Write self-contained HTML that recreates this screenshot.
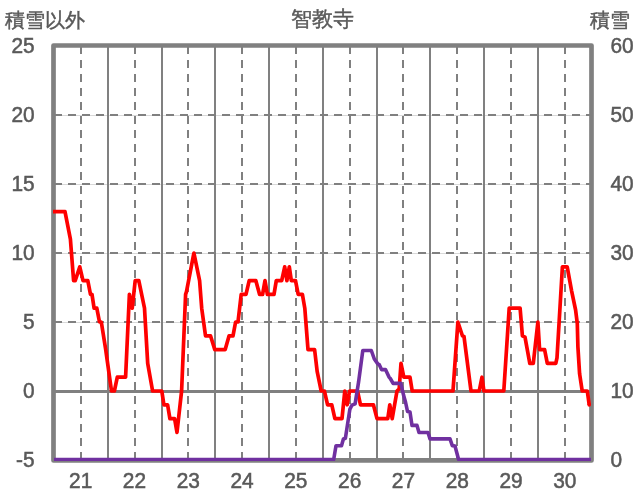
<!DOCTYPE html>
<html><head><meta charset="utf-8"><style>
html,body{margin:0;padding:0;background:#fff;width:636px;height:501px;overflow:hidden}
svg{display:block;will-change:transform}
text{font-family:"Liberation Sans",sans-serif;fill:#595959}
</style></head><body>
<svg width="636" height="501" viewBox="0 0 636 501">
<rect width="636" height="501" fill="#fff"/>
<line x1="53.5" y1="115.50" x2="591.6" y2="115.50" stroke="#d9d9d9" stroke-width="1"/>
<line x1="54" y1="115.00" x2="591.6" y2="115.00" stroke="#808080" stroke-width="2" stroke-dasharray="8 6"/>
<line x1="53.5" y1="184.50" x2="591.6" y2="184.50" stroke="#d9d9d9" stroke-width="1"/>
<line x1="54" y1="184.00" x2="591.6" y2="184.00" stroke="#808080" stroke-width="2" stroke-dasharray="8 6"/>
<line x1="53.5" y1="253.50" x2="591.6" y2="253.50" stroke="#d9d9d9" stroke-width="1"/>
<line x1="54" y1="253.00" x2="591.6" y2="253.00" stroke="#808080" stroke-width="2" stroke-dasharray="8 6"/>
<line x1="53.5" y1="322.50" x2="591.6" y2="322.50" stroke="#d9d9d9" stroke-width="1"/>
<line x1="54" y1="322.00" x2="591.6" y2="322.00" stroke="#808080" stroke-width="2" stroke-dasharray="8 6"/>
<line x1="53.5" y1="391.50" x2="591.6" y2="391.50" stroke="#808080" stroke-width="3"/>
<line x1="81" y1="460.0" x2="81" y2="46.0" stroke="#808080" stroke-width="2" stroke-dasharray="8 6"/>
<line x1="108" y1="46.0" x2="108" y2="460.0" stroke="#808080" stroke-width="2"/>
<line x1="135" y1="460.0" x2="135" y2="46.0" stroke="#808080" stroke-width="2" stroke-dasharray="8 6"/>
<line x1="162" y1="46.0" x2="162" y2="460.0" stroke="#808080" stroke-width="2"/>
<line x1="188" y1="460.0" x2="188" y2="46.0" stroke="#808080" stroke-width="2" stroke-dasharray="8 6"/>
<line x1="215" y1="46.0" x2="215" y2="460.0" stroke="#808080" stroke-width="2"/>
<line x1="242" y1="460.0" x2="242" y2="46.0" stroke="#808080" stroke-width="2" stroke-dasharray="8 6"/>
<line x1="269" y1="46.0" x2="269" y2="460.0" stroke="#808080" stroke-width="2"/>
<line x1="296" y1="460.0" x2="296" y2="46.0" stroke="#808080" stroke-width="2" stroke-dasharray="8 6"/>
<line x1="323" y1="46.0" x2="323" y2="460.0" stroke="#808080" stroke-width="2"/>
<line x1="350" y1="460.0" x2="350" y2="46.0" stroke="#808080" stroke-width="2" stroke-dasharray="8 6"/>
<line x1="377" y1="46.0" x2="377" y2="460.0" stroke="#808080" stroke-width="2"/>
<line x1="403" y1="460.0" x2="403" y2="46.0" stroke="#808080" stroke-width="2" stroke-dasharray="8 6"/>
<line x1="430" y1="46.0" x2="430" y2="460.0" stroke="#808080" stroke-width="2"/>
<line x1="457" y1="460.0" x2="457" y2="46.0" stroke="#808080" stroke-width="2" stroke-dasharray="8 6"/>
<line x1="484" y1="46.0" x2="484" y2="460.0" stroke="#808080" stroke-width="2"/>
<line x1="511" y1="460.0" x2="511" y2="46.0" stroke="#808080" stroke-width="2" stroke-dasharray="8 6"/>
<line x1="538" y1="46.0" x2="538" y2="460.0" stroke="#808080" stroke-width="2"/>
<line x1="565" y1="460.0" x2="565" y2="46.0" stroke="#808080" stroke-width="2" stroke-dasharray="8 6"/>
<rect x="53.5" y="45.5" width="538.0" height="414.9" fill="none" stroke="#808080" stroke-width="4.7" stroke-linejoin="round"/>
<polyline points="53.0,211.6 65.0,211.6 70.4,239.2 73.6,280.6 75.2,280.6 79.8,266.8 83.0,280.6 87.8,280.6 90.5,294.4 92.0,294.4 94.1,308.2 96.8,308.2 99.5,322.0 101.3,322.0 105.6,348.9 111.5,391.0 114.4,391.0 117.3,377.2 125.6,377.2 129.4,294.4 132.2,308.2 135.2,280.6 138.8,280.6 144.5,308.2 147.7,363.4 152.6,391.0 161.8,391.0 163.9,404.8 167.6,404.8 169.9,418.6 174.6,418.6 177.0,432.4 181.6,391.0 185.6,294.4 186.5,291.6 193.9,253.0 199.6,280.6 201.7,308.2 205.5,335.8 210.5,335.8 214.8,349.6 225.2,349.6 229.1,335.8 233.0,335.8 235.6,322.0 238.0,322.0 241.2,294.4 246.0,294.4 249.2,280.6 255.8,280.6 259.6,294.4 262.6,294.4 265.0,280.6 267.4,294.4 274.0,294.4 276.3,280.6 281.7,280.6 284.7,266.8 286.9,280.6 289.3,266.8 291.3,280.6 295.5,280.6 298.2,294.4 302.4,294.4 304.8,308.2 308.0,349.6 314.6,349.6 317.2,371.7 321.2,391.0 324.4,391.0 327.6,404.8 331.8,404.8 334.9,418.6 342.0,418.6 344.8,391.0 347.2,404.8 349.6,391.0 357.5,391.0 360.5,404.8 373.4,404.8 377.0,418.6 387.8,418.6 389.8,404.8 392.2,418.6 397.0,391.0 399.2,388.9 401.0,363.4 403.8,377.2 410.0,377.2 412.2,391.0 453.0,391.0 457.9,322.0 462.4,335.8 464.0,336.5 471.0,391.0 479.2,391.0 482.0,377.2 483.9,391.0 503.8,391.0 509.2,308.2 520.1,308.2 522.4,335.8 525.0,337.2 529.8,363.4 533.3,363.4 537.9,322.0 539.6,349.6 544.6,349.6 547.3,363.4 555.8,363.4 557.0,357.9 562.4,266.8 567.2,266.8 571.6,290.8 575.6,310.0 577.3,323.4 577.9,346.8 579.6,373.8 582.2,391.0 587.3,391.0 589.2,404.8" fill="none" stroke="#ff0000" stroke-width="3.7" stroke-linejoin="round" stroke-linecap="butt"/>
<circle cx="589.2" cy="404.8" r="1.85" fill="#ff0000"/>
<clipPath id="pc"><rect x="0" y="0" width="636" height="461"/></clipPath>
<polyline clip-path="url(#pc)" points="54.0,459.5 333.7,459.5 336.0,445.7 341.5,445.7 343.4,439.0 345.4,438.3 349.9,409.1 351.9,405.2 355.1,403.9 358.6,381.9 361.4,361.0 362.8,350.5 371.3,350.5 374.3,359.0 377.8,363.9 379.2,364.6 381.5,369.6 385.5,369.6 389.0,377.1 390.3,378.5 393.1,383.4 400.8,383.4 403.6,395.3 405.5,402.0 407.5,411.4 410.0,411.9 412.0,425.4 417.0,425.4 419.0,432.5 428.0,432.5 430.0,438.9 450.0,438.9 452.3,445.6 455.0,446.0 458.6,459.5 591.0,459.5" fill="none" stroke="#7030a0" stroke-width="3.6" stroke-linejoin="round" stroke-linecap="butt"/>
<text transform="translate(34.60,53.20) scale(0.92,1)" text-anchor="end" font-size="22.7" stroke="#595959" stroke-width="0.55">25</text>
<text transform="translate(34.60,122.20) scale(0.92,1)" text-anchor="end" font-size="22.7" stroke="#595959" stroke-width="0.55">20</text>
<text transform="translate(34.60,191.20) scale(0.92,1)" text-anchor="end" font-size="22.7" stroke="#595959" stroke-width="0.55">15</text>
<text transform="translate(34.60,260.20) scale(0.92,1)" text-anchor="end" font-size="22.7" stroke="#595959" stroke-width="0.55">10</text>
<text transform="translate(34.60,329.20) scale(0.92,1)" text-anchor="end" font-size="22.7" stroke="#595959" stroke-width="0.55">5</text>
<text transform="translate(34.60,398.20) scale(0.92,1)" text-anchor="end" font-size="22.7" stroke="#595959" stroke-width="0.55">0</text>
<text transform="translate(34.60,467.20) scale(0.92,1)" text-anchor="end" font-size="22.7" stroke="#595959" stroke-width="0.55">-5</text>
<text transform="translate(610.50,53.30) scale(0.92,1)" text-anchor="start" font-size="22.7" stroke="#595959" stroke-width="0.55">60</text>
<text transform="translate(610.50,122.30) scale(0.92,1)" text-anchor="start" font-size="22.7" stroke="#595959" stroke-width="0.55">50</text>
<text transform="translate(610.50,191.30) scale(0.92,1)" text-anchor="start" font-size="22.7" stroke="#595959" stroke-width="0.55">40</text>
<text transform="translate(610.50,260.30) scale(0.92,1)" text-anchor="start" font-size="22.7" stroke="#595959" stroke-width="0.55">30</text>
<text transform="translate(610.50,329.30) scale(0.92,1)" text-anchor="start" font-size="22.7" stroke="#595959" stroke-width="0.55">20</text>
<text transform="translate(610.50,398.30) scale(0.92,1)" text-anchor="start" font-size="22.7" stroke="#595959" stroke-width="0.55">10</text>
<text transform="translate(610.50,467.30) scale(0.92,1)" text-anchor="start" font-size="22.7" stroke="#595959" stroke-width="0.55">0</text>
<text transform="translate(80.65,488.20) scale(0.92,1)" text-anchor="middle" font-size="22.7" stroke="#595959" stroke-width="0.55">21</text>
<text transform="translate(134.45,488.20) scale(0.92,1)" text-anchor="middle" font-size="22.7" stroke="#595959" stroke-width="0.55">22</text>
<text transform="translate(188.25,488.20) scale(0.92,1)" text-anchor="middle" font-size="22.7" stroke="#595959" stroke-width="0.55">23</text>
<text transform="translate(242.05,488.20) scale(0.92,1)" text-anchor="middle" font-size="22.7" stroke="#595959" stroke-width="0.55">24</text>
<text transform="translate(295.85,488.20) scale(0.92,1)" text-anchor="middle" font-size="22.7" stroke="#595959" stroke-width="0.55">25</text>
<text transform="translate(349.65,488.20) scale(0.92,1)" text-anchor="middle" font-size="22.7" stroke="#595959" stroke-width="0.55">26</text>
<text transform="translate(403.45,488.20) scale(0.92,1)" text-anchor="middle" font-size="22.7" stroke="#595959" stroke-width="0.55">27</text>
<text transform="translate(457.25,488.20) scale(0.92,1)" text-anchor="middle" font-size="22.7" stroke="#595959" stroke-width="0.55">28</text>
<text transform="translate(511.05,488.20) scale(0.92,1)" text-anchor="middle" font-size="22.7" stroke="#595959" stroke-width="0.55">29</text>
<text transform="translate(564.85,488.20) scale(0.92,1)" text-anchor="middle" font-size="22.7" stroke="#595959" stroke-width="0.55">30</text>
<text x="322.30" y="26.30" text-anchor="middle" font-size="21.2" stroke="#595959" stroke-width="0.45">智教寺</text>
<text x="4.60" y="27.20" text-anchor="start" font-size="20.4" stroke="#595959" stroke-width="0.45">積雪以外</text>
<text x="589.70" y="26.80" text-anchor="start" font-size="20.4" stroke="#595959" stroke-width="0.45">積雪</text>
</svg>
</body></html>
